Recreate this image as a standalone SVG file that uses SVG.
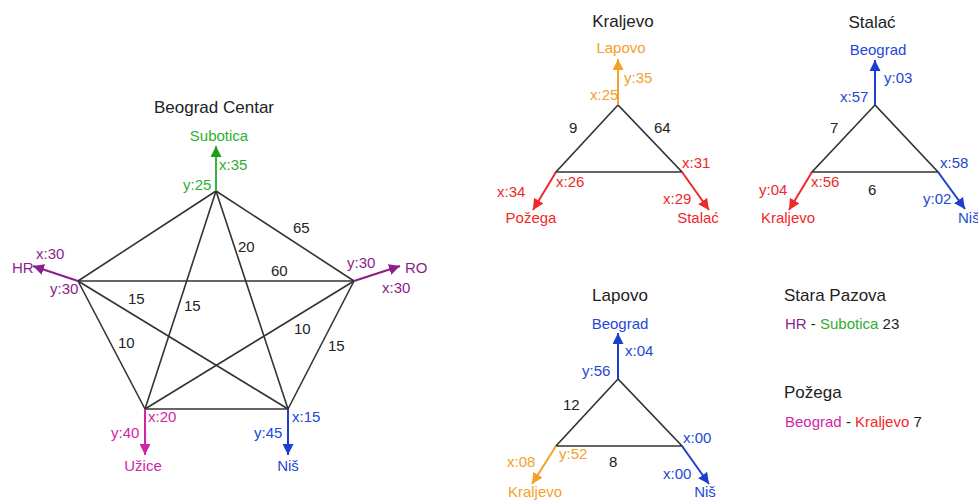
<svg xmlns="http://www.w3.org/2000/svg" width="978" height="501" viewBox="0 0 978 501">
  <style>
    text { font-family: "Liberation Sans", Arial, sans-serif; font-size: 15px; fill: #222; }
    .title { font-size: 17px; }
    .mid { text-anchor: middle; }
    .edge { stroke: #333; stroke-width: 1.6; fill: none; }
    .arr { stroke-width: 2; fill: none; }
    .green { fill: #2fae2f; } .s-green { stroke: #3cb43c; }
    .purple { fill: #8b1e8b; } .s-purple { stroke: #8b1e8b; }
    .magenta { fill: #d126a3; } .s-magenta { stroke: #d126a3; }
    .blue { fill: #2448d6; } .s-blue { stroke: #1d3fd0; }
    .red { fill: #f02828; } .s-red { stroke: #f02828; }
    .orange { fill: #f5a02c; } .s-orange { stroke: #f5a02c; }
  </style>
  <defs>
    <marker id="ah-green" viewBox="0 0 10 10" refX="10" refY="5" markerWidth="11" markerHeight="11" markerUnits="userSpaceOnUse" orient="auto"><path d="M0,0 L10,5 L0,10 z" fill="#1e9e1e"/></marker>
    <marker id="ah-purple" viewBox="0 0 10 10" refX="10" refY="5" markerWidth="11" markerHeight="11" markerUnits="userSpaceOnUse" orient="auto"><path d="M0,0 L10,5 L0,10 z" fill="#8b1e8b"/></marker>
    <marker id="ah-magenta" viewBox="0 0 10 10" refX="10" refY="5" markerWidth="11" markerHeight="11" markerUnits="userSpaceOnUse" orient="auto"><path d="M0,0 L10,5 L0,10 z" fill="#d126a3"/></marker>
    <marker id="ah-blue" viewBox="0 0 10 10" refX="10" refY="5" markerWidth="11" markerHeight="11" markerUnits="userSpaceOnUse" orient="auto"><path d="M0,0 L10,5 L0,10 z" fill="#1d3fd0"/></marker>
    <marker id="ah-red" viewBox="0 0 10 10" refX="10" refY="5" markerWidth="11" markerHeight="11" markerUnits="userSpaceOnUse" orient="auto"><path d="M0,0 L10,5 L0,10 z" fill="#f02828"/></marker>
    <marker id="ah-orange" viewBox="0 0 10 10" refX="10" refY="5" markerWidth="11" markerHeight="11" markerUnits="userSpaceOnUse" orient="auto"><path d="M0,0 L10,5 L0,10 z" fill="#f5a02c"/></marker>
  </defs>

  <rect width="978" height="501" fill="#ffffff"/>

  <!-- all lines and arrows -->
  <g id="connectors">
    <!-- Beograd Centar: complete graph on five points -->
    <line class="edge" x1="216" y1="191" x2="78" y2="281"/>
    <line class="edge" x1="216" y1="191" x2="354" y2="281"/>
    <line class="edge" x1="216" y1="191" x2="145" y2="409"/>
    <line class="edge" x1="216" y1="191" x2="288" y2="409"/>
    <line class="edge" x1="78" y1="281" x2="354" y2="281"/>
    <line class="edge" x1="78" y1="281" x2="145" y2="409"/>
    <line class="edge" x1="78" y1="281" x2="288" y2="409"/>
    <line class="edge" x1="354" y1="281" x2="145" y2="409"/>
    <line class="edge" x1="354" y1="281" x2="288" y2="409"/>
    <line class="edge" x1="145" y1="409" x2="288" y2="409"/>
    <line class="arr s-green" x1="216" y1="191" x2="216" y2="146" marker-end="url(#ah-green)"/>
    <line class="arr s-purple" x1="78" y1="281" x2="33" y2="266" marker-end="url(#ah-purple)"/>
    <line class="arr s-purple" x1="354" y1="281" x2="400" y2="266" marker-end="url(#ah-purple)"/>
    <line class="arr s-magenta" x1="145" y1="409" x2="145" y2="455" marker-end="url(#ah-magenta)"/>
    <line class="arr s-blue" x1="288" y1="409" x2="288" y2="455" marker-end="url(#ah-blue)"/>

    <!-- Kraljevo -->
    <path class="edge" d="M618,105 L556,172 L682,172 Z"/>
    <line class="arr s-orange" x1="618" y1="105" x2="618" y2="59" marker-end="url(#ah-orange)"/>
    <line class="arr s-red" x1="556" y1="172" x2="533" y2="210" marker-end="url(#ah-red)"/>
    <line class="arr s-red" x1="682" y1="172" x2="709" y2="210" marker-end="url(#ah-red)"/>

    <!-- Stalać -->
    <path class="edge" d="M875,105 L812,172 L938,172 Z"/>
    <line class="arr s-blue" x1="875" y1="105" x2="875" y2="60" marker-end="url(#ah-blue)"/>
    <line class="arr s-red" x1="812" y1="172" x2="789" y2="210" marker-end="url(#ah-red)"/>
    <line class="arr s-blue" x1="938" y1="172" x2="965" y2="209" marker-end="url(#ah-blue)"/>

    <!-- Lapovo -->
    <path class="edge" d="M618,379 L556,446 L682,446 Z"/>
    <line class="arr s-blue" x1="618" y1="379" x2="618" y2="333" marker-end="url(#ah-blue)"/>
    <line class="arr s-orange" x1="556" y1="446" x2="532" y2="484" marker-end="url(#ah-orange)"/>
    <line class="arr s-blue" x1="682" y1="446" x2="709" y2="484" marker-end="url(#ah-blue)"/>
  </g>

  <!-- Beograd Centar -->
  <g id="beograd-centar">
    <text class="title mid" x="214" y="113">Beograd Centar</text>
    <text x="293" y="233">65</text>
    <text x="238" y="252">20</text>
    <text x="271" y="276">60</text>
    <text x="128" y="304">15</text>
    <text x="184" y="311">15</text>
    <text x="118" y="348">10</text>
    <text x="294" y="334">10</text>
    <text x="328" y="351">15</text>
  </g>
  <g id="node-subotica">
    <text class="green mid" x="219" y="141">Subotica</text>
    <text class="green" x="219" y="170">x:35</text>
    <text class="green" x="183" y="190">y:25</text>
  </g>
  <g id="node-hr">
    <text class="purple" x="12" y="273">HR</text>
    <text class="purple" x="36" y="259">x:30</text>
    <text class="purple" x="50" y="294">y:30</text>
  </g>
  <g id="node-ro">
    <text class="purple" x="405" y="273">RO</text>
    <text class="purple" x="347" y="268">y:30</text>
    <text class="purple" x="382" y="293">x:30</text>
  </g>
  <g id="node-uzice">
    <text class="magenta mid" x="143" y="471">Užice</text>
    <text class="magenta" x="148" y="422">x:20</text>
    <text class="magenta" x="111" y="438">y:40</text>
  </g>
  <g id="node-nis">
    <text class="blue mid" x="288" y="471">Niš</text>
    <text class="blue" x="292" y="422">x:15</text>
    <text class="blue" x="254" y="438">y:45</text>
  </g>

  <!-- Kraljevo -->
  <g id="kraljevo">
    <text class="title mid" x="623" y="27">Kraljevo</text>
    <text class="orange mid" x="621" y="53">Lapovo</text>
    <text class="orange" x="624" y="83">y:35</text>
    <text class="orange" x="590" y="100">x:25</text>
    <text x="569" y="133">9</text>
    <text x="654" y="133">64</text>
    <text class="red" x="682" y="168">x:31</text>
    <text class="red" x="556" y="187">x:26</text>
    <text class="red" x="497" y="197">x:34</text>
    <text class="red" x="663" y="204">x:29</text>
    <text class="red mid" x="531" y="223">Požega</text>
    <text class="red mid" x="698" y="223">Stalać</text>
  </g>

  <!-- Stalać -->
  <g id="stalac">
    <text class="title mid" x="872" y="28">Stalać</text>
    <text class="blue mid" x="878" y="55">Beograd</text>
    <text class="blue" x="884" y="83">y:03</text>
    <text class="blue" x="840" y="102">x:57</text>
    <text x="830" y="133">7</text>
    <text class="blue" x="940" y="168">x:58</text>
    <text class="red" x="811" y="187">x:56</text>
    <text x="868" y="195">6</text>
    <text class="red" x="759" y="195">y:04</text>
    <text class="blue" x="923" y="204">y:02</text>
    <text class="red mid" x="788" y="223">Kraljevo</text>
    <text class="blue" x="958" y="223">Niš</text>
  </g>

  <!-- Lapovo -->
  <g id="lapovo">
    <text class="title mid" x="620" y="301">Lapovo</text>
    <text class="blue mid" x="620" y="329">Beograd</text>
    <text class="blue" x="625" y="356">x:04</text>
    <text class="blue" x="582" y="376">y:56</text>
    <text x="563" y="410">12</text>
    <text class="blue" x="683" y="443">x:00</text>
    <text class="orange" x="559" y="459">y:52</text>
    <text x="609" y="467">8</text>
    <text class="orange" x="507" y="467">x:08</text>
    <text class="blue" x="663" y="479">x:00</text>
    <text class="orange mid" x="535" y="497">Kraljevo</text>
    <text class="blue mid" x="705" y="497">Niš</text>
  </g>

  <!-- Stara Pazova -->
  <g id="stara-pazova">
    <text class="title" x="784" y="301">Stara Pazova</text>
    <text x="785" y="329"><tspan class="purple">HR</tspan> - <tspan class="green">Subotica</tspan> 23</text>
  </g>

  <!-- Požega -->
  <g id="pozega">
    <text class="title" x="784" y="398">Požega</text>
    <text x="785" y="427"><tspan class="magenta">Beograd</tspan> - <tspan class="red">Kraljevo</tspan> 7</text>
  </g>
</svg>
